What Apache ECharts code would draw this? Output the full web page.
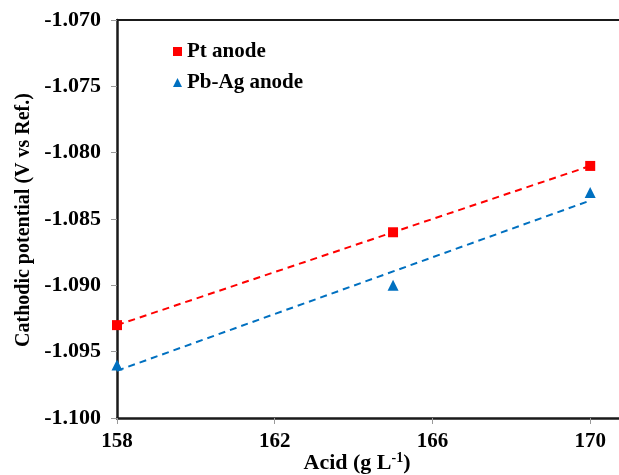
<!DOCTYPE html>
<html>
<head>
<meta charset="utf-8">
<script src="https://cdn.jsdelivr.net/npm/echarts@6/dist/echarts.min.js"></script>
<style>html,body{margin:0;padding:0;background:#fff;}#c{width:619px;height:475px;}</style>
</head>
<body>
<div id="c"></div>
<script>
var acid = [158, 165, 170];
var ptAnode = [-1.093, -1.086, -1.081];
var pbAgAnode = [-1.096, -1.090, -1.083];
var seriesNames = ['Pt anode', 'Pb-Ag anode'];
var yTicks = [-1.100, -1.095, -1.090, -1.085, -1.080, -1.075, -1.070];
var xTicks = [158, 162, 166, 170];

function fit(xs, ys) {
  var n = xs.length, mx = 0, my = 0;
  for (var i = 0; i < n; i++) { mx += xs[i]; my += ys[i]; }
  mx /= n; my /= n;
  var sxy = 0, sxx = 0;
  for (var j = 0; j < n; j++) { sxy += (xs[j]-mx)*(ys[j]-my); sxx += (xs[j]-mx)*(xs[j]-mx); }
  var b = sxy / sxx, a = my - b*mx;
  var x0 = xs[0], x1 = xs[n-1];
  return [[x0, a + b*x0], [x1, a + b*x1]];
}
function pairs(xs, ys) { return xs.map(function (x, i) { return [x, ys[i]]; }); }

var font = 'Liberation Serif, Times New Roman, serif';
var red = '#FF0000', blue = '#0070C0';
var xMax = 170.73;

var chart = echarts.init(document.getElementById('c'), null, {renderer: 'canvas'});
chart.setOption({
  animation: false,
  backgroundColor: '#fff',
  grid: {left: 117, top: 20, right: 0, bottom: 57, containLabel: false},
  legend: {
    data: [{name: seriesNames[0], icon: 'rect'}, {name: seriesNames[1], icon: 'triangle'}],
    orient: 'vertical', left: 168, top: 36,
    itemWidth: 9, itemHeight: 9, itemGap: 10,
    textStyle: {fontFamily: font, fontWeight: 'bold', fontSize: 21, color: '#000', lineHeight: 21}
  },
  xAxis: [{
    type: 'value', min: xTicks[0], max: xMax, interval: 4,
    axisLine: {show: true, lineStyle: {color: '#1a1a1a', width: 2.5}},
    axisTick: {show: true, length: 6, lineStyle: {color: '#999', width: 1}},
    axisLabel: {fontFamily: font, fontWeight: 'bold', fontSize: 21, color: '#000', margin: 13,
      showMaxLabel: false,
      formatter: function (v) { return xTicks.indexOf(v) >= 0 ? String(v) : ''; }},
    splitLine: {show: false}
  }, {
    type: 'value', position: 'top', min: xTicks[0], max: xMax, interval: 4,
    axisLine: {show: true, onZero: false, lineStyle: {color: '#1a1a1a', width: 2}},
    axisTick: {show: false}, axisLabel: {show: false}, splitLine: {show: false}
  }],
  yAxis: {
    type: 'value', min: yTicks[0], max: yTicks[yTicks.length-1], interval: 0.005,
    axisLine: {show: true, onZero: false, lineStyle: {color: '#1a1a1a', width: 2.5}},
    axisTick: {show: true, length: 6, lineStyle: {color: '#999', width: 1}},
    axisLabel: {fontFamily: font, fontWeight: 'bold', fontSize: 22, color: '#000', margin: 16,
      formatter: function (v) { return v.toFixed(3); }},
    splitLine: {show: false}
  },
  graphic: [{
    type: 'text', x: 24, y: 220, rotation: Math.PI/2,
    style: {text: 'Cathodic potential (V vs Ref.)', font: 'bold 20px ' + font, fill: '#000',
      textAlign: 'center', textVerticalAlign: 'middle'}
  }, {
    type: 'text', x: 357, y: 463,
    style: {rich: {n: {fontFamily: font, fontWeight: 'bold', fontSize: 22, fill: '#000'},
                   s: {fontFamily: font, fontWeight: 'bold', fontSize: 14, fill: '#000', verticalAlign: 'top', padding: [0,0,9,0]}},
      text: '{n|Acid (g L}{s|-1}{n|)}', textAlign: 'center', textVerticalAlign: 'middle'}
  }],
  series: [{
    name: 'Pt trend', type: 'line', data: fit(acid, ptAnode), showSymbol: false, silent: true,
    lineStyle: {color: red, width: 2, type: [7, 5]}, z: 1
  }, {
    name: 'Pb-Ag trend', type: 'line', data: fit(acid, pbAgAnode), showSymbol: false, silent: true,
    lineStyle: {color: blue, width: 2, type: [7, 5]}, z: 1
  }, {
    name: seriesNames[0], type: 'scatter', data: pairs(acid, ptAnode),
    symbol: 'rect', symbolSize: 10, itemStyle: {color: red, opacity: 1}, z: 3
  }, {
    name: seriesNames[1], type: 'scatter', data: pairs(acid, pbAgAnode),
    symbol: 'triangle', symbolSize: 11, itemStyle: {color: blue, opacity: 1}, z: 3
  }]
});
</script>
</body>
</html>
